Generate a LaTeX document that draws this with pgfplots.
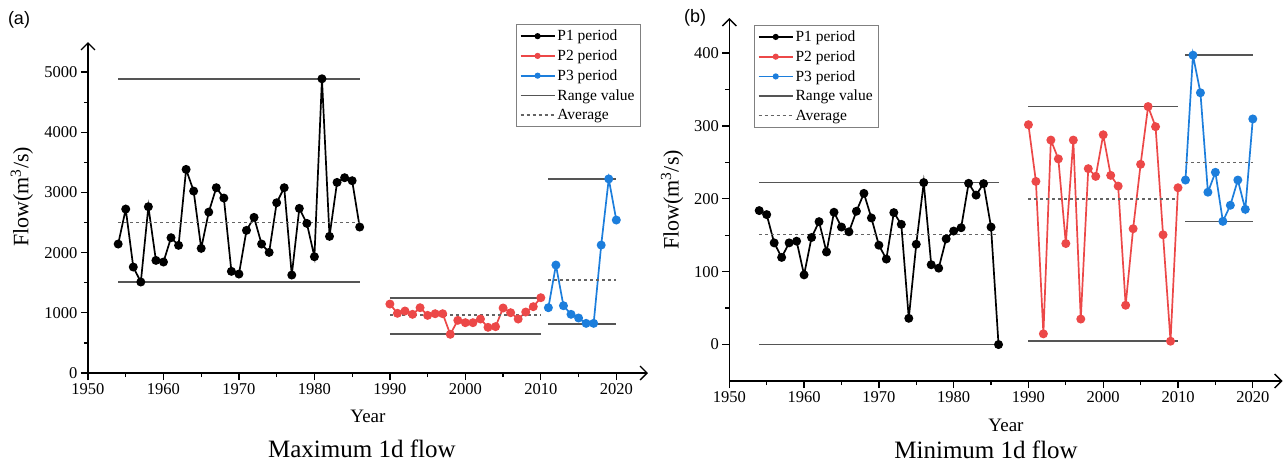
\documentclass[border=0pt]{standalone}
\usepackage{fontspec}
\setmainfont{Liberation Serif}
\newfontfamily\arial{Liberation Sans}
\usepackage{pgfplots}
\pgfplotsset{compat=1.18}
\usetikzlibrary{arrows.meta}
\definecolor{colred}{RGB}{236,72,72}
\definecolor{colblue}{RGB}{28,126,220}
\definecolor{colrng}{RGB}{85,85,85}
\definecolor{colavg}{RGB}{100,100,100}

\pgfplotsset{
  myaxis/.style={
    scale only axis,
    axis lines=left,
    axis line style={line width=1.4pt, -{Straight Barb[length=7pt,width=14pt,line width=1.4pt]}},
    tick align=outside,
    major tick length=7pt, minor tick length=4pt,
    every tick/.style={black, line width=1.3pt},
    tick label style={font=\fontsize{16.5}{18}\selectfont},
    /pgf/number format/assume math mode=true,
    /pgf/number format/1000 sep={},
    xtick={1950,1960,...,2020},
    minor xtick={1955,1965,...,2015},
    xmin=1950,
    xlabel={Year},
    ylabel={Flow(m\textsuperscript{3}/s)},
    x label style={font=\fontsize{19}{22}\selectfont, anchor=center},
    y label style={font=\fontsize{22}{25}\selectfont, anchor=center},
    title style={font=\fontsize{25}{28}\selectfont, anchor=center},
    legend cell align=left,
    legend style={font=\fontsize{15.5}{17}\selectfont, draw=gray, line width=0.8pt, inner sep=3.5pt, row sep=3.5pt, anchor=north west},
    legend image code/.code={\draw[mark repeat=2,mark phase=2,##1, mark size=2.2pt] plot coordinates {(0pt,0pt) (17pt,0pt) (34pt,0pt)};},
    legend entries={P1 period, P2 period, P3 period, Range value, Average},
  },
  sone/.style={black, line width=1.7pt, mark=*, mark size=3.6pt, mark options={solid}},
  stwo/.style={colred, line width=1.7pt, mark=*, mark size=3.6pt, mark options={solid}},
  sthree/.style={colblue, line width=1.7pt, mark=*, mark size=3.6pt, mark options={solid}},
  rngline/.style={colrng, line width=1.7pt, no marks},
  avgline/.style={colavg, line width=1.5pt, dash pattern=on 3pt off 3pt, no marks},
}

\begin{document}
\begin{tikzpicture}
\useasboundingbox (0,0) rectangle (1286pt,464pt);
\node[font=\arial\fontsize{18}{20}\selectfont] at (19pt,444pt) {(a)};
\node[font=\arial\fontsize{18}{20}\selectfont] at (695pt,446pt) {(b)};

% ---------------- (a) Maximum 1d flow ----------------
\begin{axis}[myaxis,
  at={(88pt,91pt)}, anchor=south west,
  width=560pt, height=331pt,
  xmax=2024.2, ymin=0, ymax=5500,
  ytick={0,1000,...,5000}, minor ytick={500,1500,...,4500},
  x label style={at={(axis description cs:0.5,-0.13)}},
  y label style={at={(axis description cs:-0.118,0.532)}},
  title={Maximum 1d flow},
  title style={at={(axis description cs:0.489,-0.248)}},
  legend style={at={(0.764,1.054)}},
]
\addplot[sone] coordinates {
(1954,2143) (1955,2724) (1956,1761) (1957,1512) (1958,2763) (1959,1871)
(1960,1844) (1961,2248) (1962,2121) (1963,3383) (1964,3023) (1965,2071)
(1966,2674) (1967,3079) (1968,2907) (1969,1689) (1970,1644) (1971,2370)
(1972,2586) (1973,2143) (1974,2004) (1975,2829) (1976,3079) (1977,1628)
(1978,2735) (1979,2486) (1980,1932) (1981,4889) (1982,2270) (1983,3167)
(1984,3245) (1985,3195) (1986,2425)};
\addplot[stwo] coordinates {
(1990,1146) (1991,992) (1992,1030) (1993,975) (1994,1085) (1995,958)
(1996,985) (1997,985) (1998,643) (1999,875) (2000,836) (2001,836)
(2002,897) (2003,759) (2004,770) (2005,1080) (2006,1002) (2007,897)
(2008,1013) (2009,1102) (2010,1251)};
\addplot[sthree] coordinates {
(2011,1085) (2012,1794) (2013,1118) (2014,975) (2015,914) (2016,825)
(2017,825) (2018,2126) (2019,3225) (2020,2542)};
\addlegendimage{rngline}
\addlegendimage{avgline}
\addplot[rngline, forget plot] coordinates {(1954,4889) (1986,4889)};
\addplot[rngline, forget plot] coordinates {(1954,1512) (1986,1512)};
\addplot[avgline, forget plot] coordinates {(1954,2497) (1986,2497)};
\addplot[rngline, forget plot] coordinates {(1990,1251) (2010,1251)};
\addplot[rngline, forget plot] coordinates {(1990,643) (2010,643)};
\addplot[avgline, forget plot] coordinates {(1990,963) (2010,963)};
\addplot[rngline, forget plot] coordinates {(2011,3225) (2020,3225)};
\addplot[rngline, forget plot] coordinates {(2011,818) (2020,818)};
\addplot[avgline, forget plot] coordinates {(2011,1545) (2020,1545)};
\end{axis}

% ---------------- (b) Minimum 1d flow ----------------
\begin{axis}[myaxis,
  at={(729.3pt,83pt)}, anchor=south west,
  width=553.4pt, height=363pt,
  xmax=2024, ymin=-50, ymax=448,
  ytick={0,100,...,400}, minor ytick={50,150,...,350},
  x label style={at={(axis description cs:0.5,-0.121)}},
  y label style={at={(axis description cs:-0.1035,0.4986)}},
  title={Minimum 1d flow},
  title style={at={(axis description cs:0.464,-0.206)}},
  legend style={at={(0.0446,0.981)}},
]
\addplot[sone] coordinates {
(1954,183.8) (1955,178.3) (1956,139.5) (1957,119.6) (1958,139.5) (1959,141.8)
(1960,95.6) (1961,146.9) (1962,168.6) (1963,127.0) (1964,181.5) (1965,161.2)
(1966,154.7) (1967,182.9) (1968,207.4) (1969,173.7) (1970,136.3) (1971,117.3)
(1972,181.0) (1973,164.9) (1974,36.0) (1975,137.6) (1976,222.2) (1977,109.5)
(1978,104.8) (1979,145.0) (1980,155.7) (1981,160.3) (1982,221.2) (1983,205.0)
(1984,220.8) (1985,161.2) (1986,0.0)};
\addplot[stwo] coordinates {
(1990,301.6) (1991,223.8) (1992,14.7) (1993,280.5) (1994,254.7) (1995,138.6)
(1996,280.5) (1997,35.0) (1998,241.3) (1999,230.7) (2000,287.8) (2001,232.1)
(2002,217.4) (2003,53.9) (2004,158.9) (2005,247.3) (2006,326.5) (2007,298.9)
(2008,150.6) (2009,4.6) (2010,215.1)};
\addplot[sthree] coordinates {
(2011,225.7) (2012,397.0) (2013,345.4) (2014,209.0) (2015,236.3) (2016,169.0)
(2017,191.1) (2018,225.7) (2019,185.5) (2020,309.5)};
\addlegendimage{rngline}
\addlegendimage{avgline}
\addplot[rngline, forget plot] coordinates {(1954,222.2) (1986,222.2)};
\addplot[rngline, forget plot] coordinates {(1954,0) (1986,0)};
\addplot[avgline, forget plot] coordinates {(1954,151) (1986,151)};
\addplot[rngline, forget plot] coordinates {(1990,326.5) (2010,326.5)};
\addplot[rngline, forget plot] coordinates {(1990,4.6) (2010,4.6)};
\addplot[avgline, forget plot] coordinates {(1990,199.4) (2010,199.4)};
\addplot[rngline, forget plot] coordinates {(2011,397) (2020,397)};
\addplot[rngline, forget plot] coordinates {(2011,169) (2020,169)};
\addplot[avgline, forget plot] coordinates {(2011,249.6) (2020,249.6)};
\end{axis}
\end{tikzpicture}
\end{document}
